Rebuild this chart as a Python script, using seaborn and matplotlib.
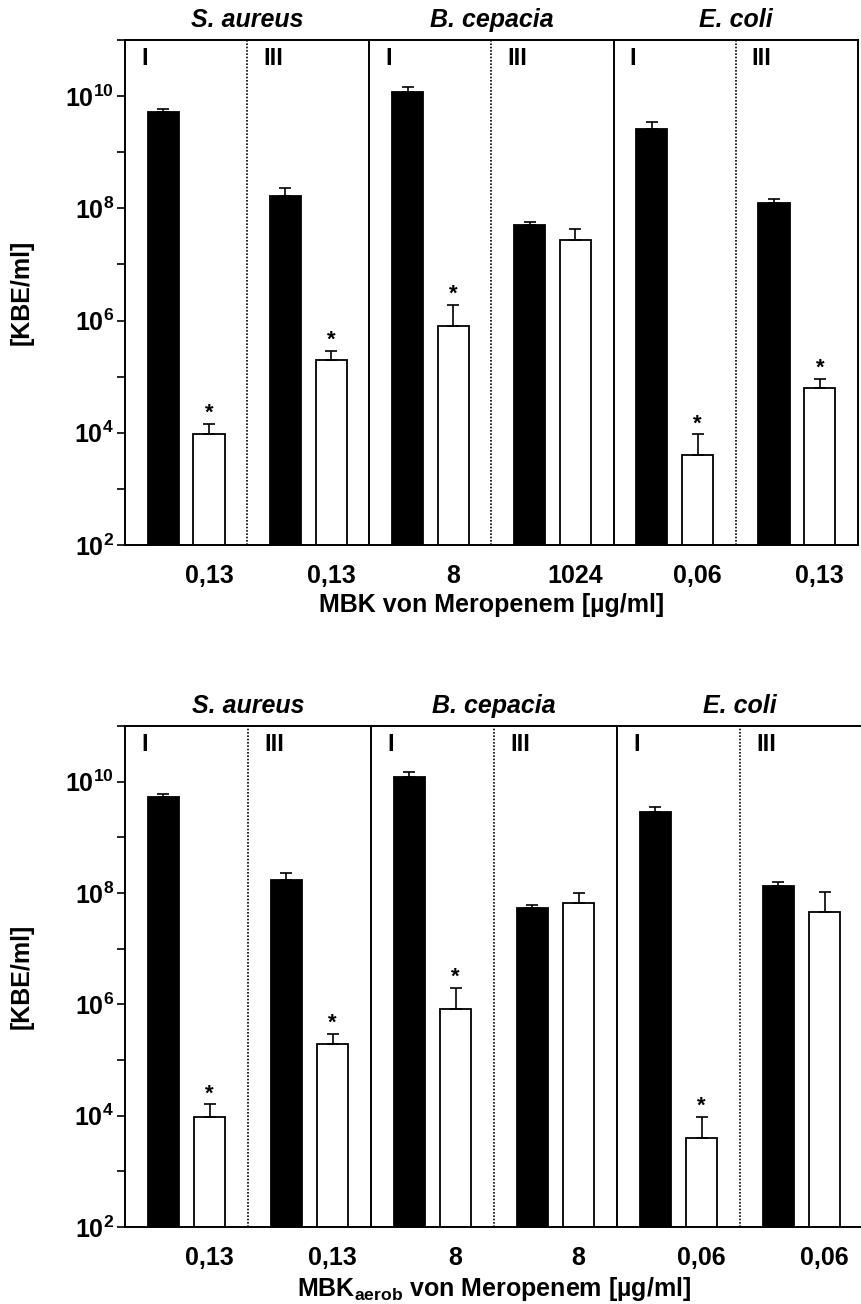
import numpy as np
import pandas as pd
import matplotlib
matplotlib.use("Agg")
import matplotlib.pyplot as plt
import matplotlib.transforms as mtransforms
from matplotlib.ticker import NullLocator
import seaborn as sns

# ---------------- data ----------------
groups = ["S. aureus I", "S. aureus III", "B. cepacia I", "B. cepacia III", "E. coli I", "E. coli III"]
species = ["S. aureus", "B. cepacia", "E. coli"]
phases = ["I", "III", "I", "III", "I", "III"]
conditions = ["Kontrolle", "MBK"]

# upper panel: MBK von Meropenem
top_ctrl = [5.2e9, 1.67e8, 1.18e10, 5.1e7, 2.6e9, 1.25e8]
top_ctrl_sd = [7e8, 6.3e7, 2.7e9, 7e6, 9e8, 1.9e7]
top_mbk = [9.4e3, 1.95e5, 8.1e5, 2.75e7, 4.1e3, 6.3e4]
top_mbk_sd = [5.2e3, 9.0e4, 1.09e6, 1.45e7, 5.3e3, 2.9e4]
top_sig = [True, True, True, False, True, True]
top_conc = ["0,13", "0,13", "8", "1024", "0,06", "0,13"]

# lower panel: MBK_aerob von Meropenem
bot_ctrl = [5.3e9, 1.7e8, 1.2e10, 5.3e7, 2.8e9, 1.32e8]
bot_ctrl_sd = [7e8, 6e7, 3e9, 9e6, 7e8, 2.3e7]
bot_mbk = [9.4e3, 1.95e5, 8.3e5, 6.6e7, 3.9e3, 4.6e7]
bot_mbk_sd = [6.6e3, 1.0e5, 1.17e6, 3.2e7, 5.5e3, 6.0e7]
bot_sig = [True, True, True, False, True, False]
bot_conc = ["0,13", "0,13", "8", "8", "0,06", "0,06"]

ytick_vals = [10.0 ** k for k in range(2, 12)]
ytick_labels = [f"$10^{{{k}}}$" if k % 2 == 0 else "" for k in range(2, 12)]

# ---------------- style ----------------
sns.set_theme(style="ticks")
plt.rcParams.update({
    "font.family": ["Liberation Sans", "DejaVu Sans"],
    "font.weight": "bold",
    "mathtext.fontset": "custom",
    "mathtext.rm": "Liberation Sans:bold",
    "mathtext.bf": "Liberation Sans:bold",
    "mathtext.it": "Liberation Sans:bold:italic",
    "mathtext.default": "bf",
    "axes.linewidth": 1.4,
    "axes.edgecolor": "black",
    "text.color": "black",
})

W, H = 861, 1304
fig = plt.figure(figsize=(W / 100, H / 100), dpi=100)
ax_top = fig.add_axes([125 / W, 1 - 545 / H, 733 / W, 505 / H])
ax_bot = fig.add_axes([125 / W, 1 - 1227 / H, 738 / W, 501 / H])


def draw_panel(ax, ctrl, ctrl_sd, mbk, mbk_sd, sig, conc, xlabel):
    df = pd.DataFrame({
        "group": groups * 2,
        "cond": [conditions[0]] * len(groups) + [conditions[1]] * len(groups),
        "value": ctrl + mbk,
    })
    sns.barplot(data=df, x="group", y="value", hue="cond", order=groups,
                hue_order=conditions, palette=["black", "white"], saturation=1,
                edgecolor="black", linewidth=1.3, width=0.75, gap=0.32,
                errorbar=None, legend=False, ax=ax)
    ax.set_yscale("log")

    vals = {conditions[0]: ctrl, conditions[1]: mbk}
    sds = {conditions[0]: ctrl_sd, conditions[1]: mbk_sd}
    white_x = [None] * len(groups)
    for cond, cont in zip(conditions, ax.containers):
        for bar in cont:
            xc = bar.get_x() + bar.get_width() / 2
            idx = int(round(xc))
            v = vals[cond][idx]
            s = sds[cond][idx]
            ax.errorbar(xc, v, yerr=[[0], [s]], fmt="none", ecolor="black",
                        elinewidth=1.2, capsize=4.2, capthick=1.2, zorder=3)
            if cond == conditions[1]:
                white_x[idx] = xc
                if sig[idx]:
                    ax.text(xc, (v + s) * 10 ** 0.09, "*", ha="center", va="baseline",
                            fontsize=16, fontweight="bold", color="black")

    ax.set_ylim(1e2, 1e11)
    ax.set_xlim(-0.5, len(groups) - 0.5)

    # group dividers
    for b in [0.5, 2.5, 4.5]:
        ax.axvline(b, color="black", lw=1.2, ls=(0, (1, 1)), zorder=1)
    for b in [1.5, 3.5]:
        ax.axvline(b, color="black", lw=1.4, ls="-", zorder=1)

    trans = mtransforms.blended_transform_factory(ax.transData, ax.transAxes)
    for i, sp in enumerate(species):
        ax.text(2 * i + 0.5, 1.04, sp, transform=trans, ha="center", va="center",
                fontsize=18, fontweight="bold", fontstyle="italic")
    for i, ph in enumerate(phases):
        ax.text(i - 0.5 + 0.13, 0.963, ph, transform=trans, ha="left", va="center",
                fontsize=17, fontweight="bold")

    ax.set_yticks(ytick_vals)
    ax.set_yticklabels(ytick_labels)
    ax.yaxis.set_minor_locator(NullLocator())
    ax.tick_params(axis="y", direction="out", length=6, width=1.2, labelsize=18, pad=2,
                   colors="black")
    ax.set_xticks(white_x)
    ax.set_xticklabels(conc, fontsize=18, fontweight="bold")
    ax.tick_params(axis="x", length=0, pad=14, colors="black")

    ax.set_ylabel("[KBE/ml]", fontsize=18, fontweight="bold", color="black")
    ax.yaxis.set_label_coords(-0.124, 0.5)
    ax.set_xlabel(xlabel, fontsize=18, fontweight="bold", color="black", labelpad=3)

    for sp in ax.spines.values():
        sp.set_visible(True)
        sp.set_linewidth(1.4)
        sp.set_color("black")
    ax.set_facecolor("white")


draw_panel(ax_top, top_ctrl, top_ctrl_sd, top_mbk, top_mbk_sd, top_sig, top_conc,
           "MBK von Meropenem [µg/ml]")
draw_panel(ax_bot, bot_ctrl, bot_ctrl_sd, bot_mbk, bot_mbk_sd, bot_sig, bot_conc,
           "MBK$_{aerob}$ von Meropenem [µg/ml]")

fig.savefig("out.png", dpi=100, facecolor="white")
